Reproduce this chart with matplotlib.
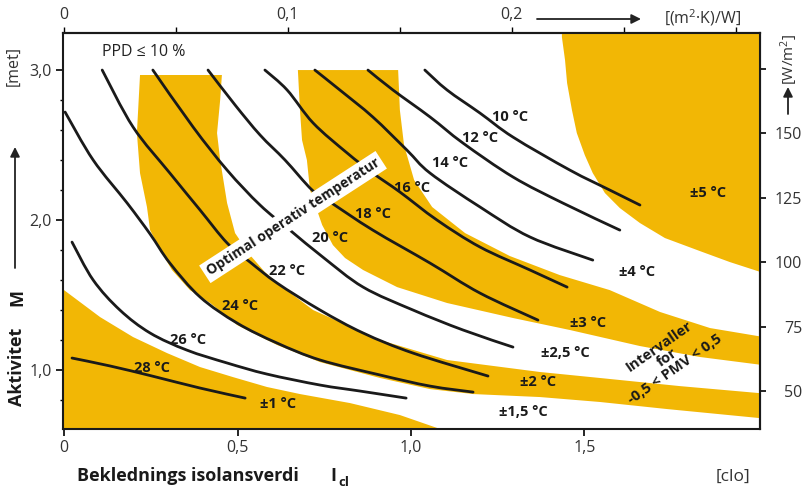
import matplotlib.pyplot as plt
from matplotlib.path import Path
from matplotlib.patches import PathPatch

plt.rcParams['font.family'] = ['Open Sans', 'DejaVu Sans']
plt.rcParams['mathtext.default'] = 'regular'

# isotherms of optimal operative temperature (clo, met)
t10_clo = [1.040, 1.104, 1.199, 1.294, 1.458, 1.573, 1.660]
t10_met = [3.000, 2.867, 2.713, 2.553, 2.333, 2.200, 2.100]
t12_clo = [0.876, 0.948, 1.055, 1.150, 1.294, 1.438, 1.602]
t12_met = [3.000, 2.867, 2.687, 2.513, 2.287, 2.113, 1.933]
t14_clo = [0.723, 0.795, 0.890, 0.988, 1.055, 1.199, 1.343, 1.524]
t14_met = [3.000, 2.867, 2.687, 2.467, 2.313, 2.087, 1.887, 1.733]
t16_clo = [0.579, 0.643, 0.718, 0.816, 0.890, 0.968, 1.075, 1.199, 1.343, 1.450]
t16_met = [3.000, 2.867, 2.647, 2.447, 2.313, 2.187, 2.000, 1.820, 1.667, 1.553]
t18_clo = [0.415, 0.493, 0.565, 0.637, 0.715, 0.767, 0.890, 1.055, 1.199, 1.366]
t18_met = [3.000, 2.767, 2.567, 2.400, 2.200, 2.120, 1.933, 1.713, 1.513, 1.333]
t20_clo = [0.256, 0.372, 0.470, 0.565, 0.651, 0.746, 0.862, 1.006, 1.150, 1.294]
t20_met = [3.000, 2.620, 2.333, 2.100, 1.933, 1.753, 1.553, 1.400, 1.267, 1.153]
t22_clo = [0.110, 0.199, 0.305, 0.392, 0.470, 0.536, 0.614, 0.738, 0.862, 1.006, 1.222]
t22_met = [3.000, 2.620, 2.313, 2.067, 1.847, 1.720, 1.580, 1.400, 1.247, 1.113, 0.960]
t24_clo = [0.003, 0.084, 0.182, 0.248, 0.305, 0.392, 0.499, 0.614, 0.738, 0.911, 1.055, 1.179]
t24_met = [2.720, 2.400, 2.113, 1.907, 1.713, 1.487, 1.313, 1.180, 1.067, 0.967, 0.893, 0.853]
t26_clo = [0.023, 0.084, 0.161, 0.248, 0.354, 0.470, 0.585, 0.738, 0.853, 0.986]
t26_met = [1.853, 1.600, 1.400, 1.247, 1.133, 1.047, 0.973, 0.900, 0.860, 0.813]
t28_clo = [0.023, 0.133, 0.254, 0.392, 0.522]
t28_met = [1.080, 1.027, 0.960, 0.880, 0.813]

temp_labels = ['10 °C', '12 °C', '14 °C', '16 °C', '18 °C', '20 °C', '22 °C', '24 °C', '26 °C', '28 °C']
temp_label_clo = [1.285, 1.199, 1.112, 1.003, 0.890, 0.767, 0.643, 0.507, 0.357, 0.254]
temp_label_met = [2.687, 2.547, 2.380, 2.213, 2.040, 1.880, 1.660, 1.427, 1.200, 1.013]

# tolerance bands (-0.5 < PMV < 0.5), outlines in clo / met
band1_clo = [-0.05, 0.0, 0.104, 0.199, 0.297, 0.392, 0.487, 0.585, 0.680, 0.824, 0.968, 1.084, 1.22, -0.05]
band1_met = [1.54, 1.533, 1.353, 1.220, 1.113, 1.020, 0.953, 0.887, 0.840, 0.780, 0.700, 0.607, 0.50, 0.50]

band2_clo = [0.219, 0.210, 0.219, 0.239, 0.248, 0.277, 0.311, 0.363, 0.421, 0.499, 0.614, 0.738,
             0.911, 1.055, 1.179, 1.372, 1.545, 1.738, 2.035,
             2.035, 1.775, 1.545, 1.372, 1.104, 0.911, 0.718, 0.622, 0.579, 0.536, 0.493, 0.470,
             0.450, 0.441, 0.450, 0.455]
band2_met = [2.967, 2.580, 2.313, 2.087, 1.933, 1.800, 1.667, 1.533, 1.447, 1.300, 1.167, 1.053,
             0.947, 0.873, 0.840, 0.820, 0.787, 0.740, 0.673,
             0.840, 0.893, 0.947, 0.987, 1.067, 1.200, 1.400, 1.567, 1.653, 1.767, 1.913, 2.113,
             2.400, 2.580, 2.800, 2.967]

band3_clo = [0.674, 0.680, 0.686, 0.700, 0.709, 0.729, 0.744, 0.775, 0.810, 0.862, 0.960, 1.104,
             1.294, 1.458, 1.660, 1.833, 2.035,
             2.035, 1.862, 1.718, 1.573, 1.429, 1.285, 1.156, 1.061, 1.009, 0.980, 0.968, 0.963]
band3_met = [3.000, 2.733, 2.533, 2.400, 2.200, 2.067, 1.967, 1.833, 1.747, 1.667, 1.553, 1.447,
             1.347, 1.267, 1.160, 1.087, 1.027,
             1.213, 1.280, 1.387, 1.533, 1.633, 1.760, 1.913, 2.087, 2.267, 2.500, 2.733, 3.000]

band5_clo = [1.435, 1.435, 1.444, 1.450, 1.464, 1.478, 1.501, 1.524, 1.559, 1.602, 1.660, 1.732,
             1.833, 1.919, 2.035, 2.035]
band5_met = [3.300, 3.220, 3.067, 2.913, 2.733, 2.580, 2.433, 2.313, 2.180, 2.080, 1.980, 1.880,
             1.793, 1.720, 1.633, 3.300]

band_labels = ['±5 °C', '±4 °C', '±3 °C', '±2,5 °C', '±2 °C', '±1,5 °C', '±1 °C']
band_label_clo = [1.856, 1.651, 1.510, 1.444, 1.366, 1.323, 0.617]
band_label_met = [2.180, 1.653, 1.313, 1.113, 0.920, 0.720, 0.773]

yellow = '#F2B705'
ink = '#1a1a1a'


def smooth_path(xs, ys):
    # Catmull-Rom through the read points, drawn as cubic Bezier segments
    pts = list(zip(xs, ys))
    verts = [pts[0]]
    codes = [Path.MOVETO]
    for i in range(len(pts) - 1):
        p0 = pts[i - 1] if i > 0 else pts[i]
        p1, p2 = pts[i], pts[i + 1]
        p3 = pts[i + 2] if i + 2 < len(pts) else pts[i + 1]
        c1 = (p1[0] + (p2[0] - p0[0]) / 6, p1[1] + (p2[1] - p0[1]) / 6)
        c2 = (p2[0] - (p3[0] - p1[0]) / 6, p2[1] - (p3[1] - p1[1]) / 6)
        verts += [c1, c2, p2]
        codes += [Path.CURVE4] * 3
    return Path(verts, codes)


fig = plt.figure(figsize=(8.04, 4.90), dpi=100)
ax = fig.add_axes([63 / 804, 1 - 429 / 490, 697 / 804, 396 / 490])
ax.set_xlim(-0.003, 2.006)
ax.set_ylim(0.607, 3.247)

for bc, bm in [(band1_clo, band1_met), (band2_clo, band2_met),
               (band3_clo, band3_met), (band5_clo, band5_met)]:
    ax.fill(bc, bm, color=yellow, lw=0, zorder=1)

lines = [(t10_clo, t10_met), (t12_clo, t12_met), (t14_clo, t14_met), (t16_clo, t16_met),
         (t18_clo, t18_met), (t20_clo, t20_met), (t22_clo, t22_met), (t24_clo, t24_met),
         (t26_clo, t26_met), (t28_clo, t28_met)]
for c, m in lines:
    ax.add_patch(PathPatch(smooth_path(c, m), fill=False, edgecolor=ink, lw=2.0,
                           capstyle='round', zorder=3))

for s, c, m in zip(temp_labels, temp_label_clo, temp_label_met):
    ax.text(c, m, s, fontsize=10.5, fontweight='bold', ha='center', va='center', color=ink, zorder=4)
for s, c, m in zip(band_labels, band_label_clo, band_label_met):
    ax.text(c, m, s, fontsize=10.5, fontweight='bold', ha='center', va='center', color=ink, zorder=4)

ax.text(0.660, 2.02, 'Optimal operativ temperatur', rotation=33, rotation_mode='anchor',
        ha='center', va='center', fontsize=10, fontweight='bold', color=ink, zorder=5,
        bbox=dict(facecolor='white', edgecolor='none', pad=2.5))
ax.text(1.738, 1.08, 'Intervaller\nfor\n-0,5 < PMV < 0,5', rotation=35, rotation_mode='anchor',
        ha='center', va='center', multialignment='center', fontsize=10.5, fontweight='bold',
        color=ink, linespacing=1.0, zorder=4)
ax.text(0.11, 3.12, 'PPD ≤ 10 %', fontsize=11.5, ha='left', va='center', color='#222222')

# axes styling
for sp in ax.spines.values():
    sp.set_linewidth(1.5)
    sp.set_color(ink)
ax.set_xticks([0, 0.5, 1.0, 1.5])
ax.set_xticklabels(['0', '0,5', '1,0', '1,5'])
ax.set_yticks([1.0, 2.0, 3.0])
ax.set_yticklabels(['1,0', '2,0', '3,0'])
ax.set_yticks([0.8, 1.2, 1.4, 1.6, 1.8, 2.2, 2.4, 2.6, 2.8], minor=True)
ax.tick_params(which='major', direction='out', length=5, width=1.2, labelsize=11.5,
               labelcolor='#333333', pad=3)
ax.tick_params(which='minor', direction='out', length=2.5, width=1.0)

top = ax.secondary_xaxis('top', functions=(lambda c: c * 0.155, lambda r: r / 0.155))
top.set_xticks([0, 0.1, 0.2])
top.set_xticklabels(['0', '0,1', '0,2'])
top.set_xticks([0.05, 0.15, 0.25, 0.3], minor=True)
top.tick_params(which='both', direction='out', length=4, width=1.0, labelsize=11.5,
                labelcolor='#333333', pad=3)
top.spines['top'].set_linewidth(1.5)

right = ax.secondary_yaxis('right', functions=(lambda m: m * 58.2, lambda w: w / 58.2))
right.set_yticks([50, 75, 100, 125, 150])
right.set_yticklabels(['50', '75', '100', '125', '150'])
right.set_yticks([175], minor=True)
right.tick_params(which='both', direction='out', length=4.5, width=1.2, labelsize=11.5,
                  labelcolor='#333333', pad=26)
for lab in right.get_yticklabels():
    lab.set_ha('right')
right.spines['right'].set_linewidth(1.5)

# outer labels and arrows
fx = lambda px: px / 804
fy = lambda py: 1 - py / 490
fig.text(fx(77), fy(476), 'Beklednings isolansverdi', fontsize=13, fontweight='bold',
         ha='left', va='center', color=ink)
fig.text(fx(333), fy(476), 'I', fontsize=13, fontweight='bold', ha='center', va='center', color=ink)
fig.text(fx(338), fy(482), 'cl', fontsize=9.5, fontweight='bold', ha='left', va='center', color=ink)
fig.text(fx(733), fy(477), '[clo]', fontsize=12.5, ha='center', va='center', color='#333333')

fig.text(fx(17), fy(367), 'Aktivitet', fontsize=13, fontweight='bold', rotation=90,
         ha='center', va='center', color=ink)
fig.text(fx(17), fy(297), 'M', fontsize=13, fontweight='bold', rotation=90,
         ha='center', va='center', color=ink)
fig.text(fx(14), fy(66), '[met]', fontsize=11.5, rotation=90, ha='center', va='center', color='#333333')
fig.text(fx(703), fy(18), '[(m$^2$·K)/W]', fontsize=11.5, ha='center', va='center', color='#333333')
fig.text(fx(789), fy(59), '[W/m$^2$]', fontsize=11, rotation=90, ha='center', va='center', color='#333333')

arrow = dict(arrowstyle='-|>', color='#222222', lw=1.3, mutation_scale=14, shrinkA=0, shrinkB=0)
fig.add_artist(plt.Annotation('', xy=(fx(15), fy(147)), xytext=(fx(15), fy(268)),
                              xycoords='figure fraction', textcoords='figure fraction', arrowprops=arrow))
fig.add_artist(plt.Annotation('', xy=(fx(641), fy(19)), xytext=(fx(537), fy(19)),
                              xycoords='figure fraction', textcoords='figure fraction', arrowprops=arrow))
fig.add_artist(plt.Annotation('', xy=(fx(788), fy(87)), xytext=(fx(788), fy(114)),
                              xycoords='figure fraction', textcoords='figure fraction', arrowprops=arrow))

fig.savefig('out.png', dpi=100)
